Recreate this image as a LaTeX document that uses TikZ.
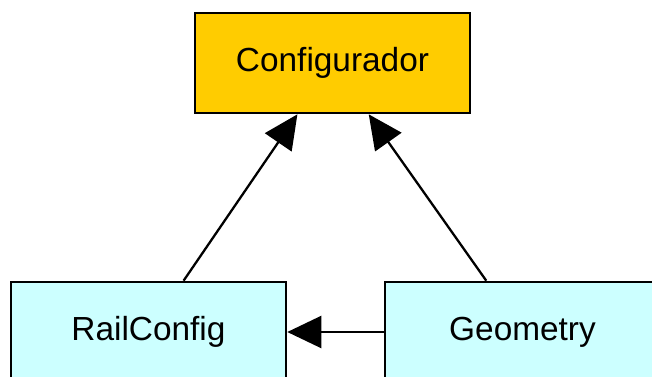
\documentclass[tikz,border=0pt]{standalone}
\usepackage{fontspec}
\setmainfont{Liberation Sans}
\usepackage{xcolor}
\usetikzlibrary{arrows.meta}
\definecolor{gold}{HTML}{FFCC00}
\definecolor{paleblue}{HTML}{CCFFFF}

\begin{document}
\begin{tikzpicture}[
font=\fontsize{19}{23}\selectfont,
cls/.style={rectangle, draw, line width=1.5pt, minimum width=5.5cm, minimum height=2cm},
top/.style={cls, fill=gold},
sub/.style={cls, fill=paleblue},
route/.style={-{Triangle[length=0.68cm,width=0.64cm]}, line width=1.3pt},
]

%page size
\clip (0,0) rectangle (13.04,7.52);

%draw classes
\node(conf)[top] at (6.65,6.26){Configurador};
\node(rail)[sub] at (2.97,0.88){RailConfig};
\node(geom)[sub] at (10.45,0.88){Geometry};

%draw links
\draw[route] (rail) -- (conf);
\draw[route] (geom) -- (conf);
\draw[route] (geom) -- (rail);

\end{tikzpicture}
\end{document}
